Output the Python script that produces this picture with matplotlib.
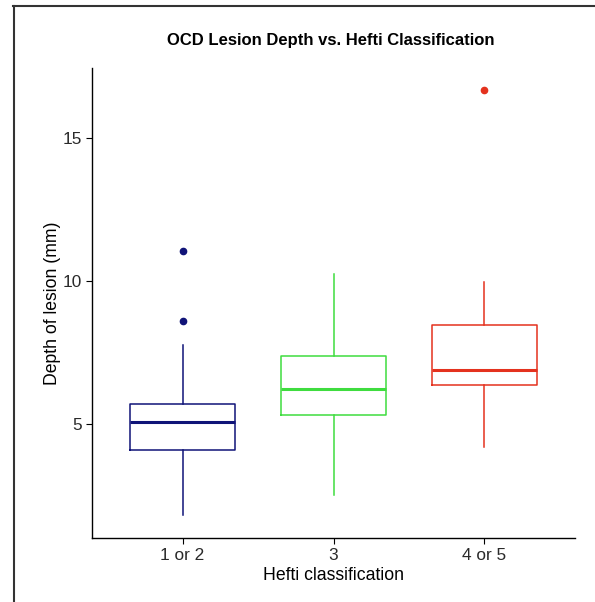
import matplotlib
matplotlib.use("Agg")
import matplotlib.pyplot as plt
from matplotlib.lines import Line2D

plt.rcParams['font.family'] = ['Liberation Sans', 'DejaVu Sans']

categories = ["1 or 2", "3", "4 or 5"]
whisker_low = [1.82, 2.51, 4.19]
q1 = [4.09, 5.31, 6.36]
median = [5.07, 6.22, 6.88]
q3 = [5.69, 7.38, 8.44]
whisker_high = [7.76, 10.24, 9.95]
outliers = [[8.58, 11.06], [], [16.68]]
colors = ["#101478", "#3fdc3f", "#e4321e"]

fig = plt.figure(figsize=(5.95, 6.02), dpi=100)
ax = fig.add_axes([92/595, 1-538/602, (575-92)/595, (538-68)/602])

stats = []
for i, c in enumerate(categories):
    stats.append(dict(label=c, whislo=whisker_low[i], q1=q1[i], med=median[i],
                      q3=q3[i], whishi=whisker_high[i], fliers=outliers[i]))

for i, s in enumerate(stats):
    col = colors[i]
    ax.bxp([s], positions=[i + 1], widths=0.7, showcaps=False, patch_artist=False,
           boxprops=dict(color=col, linewidth=1.1),
           whiskerprops=dict(color=col, linewidth=1.1),
           medianprops=dict(color=col, linewidth=2.2, solid_capstyle='butt'),
           flierprops=dict(marker='o', markerfacecolor=col, markeredgecolor=col,
                           markersize=4.5, linestyle='none'))

ax.set_xlim(0.4, 3.6)
ax.set_ylim(1.0, 17.45)
ax.set_xticks([1, 2, 3])
ax.set_xticklabels(categories)
ax.set_yticks([5, 10, 15])
ax.set_yticklabels(["5", "10", "15"])

for side in ["top", "right"]:
    ax.spines[side].set_visible(False)
for side in ["left", "bottom"]:
    ax.spines[side].set_linewidth(1.0)
    ax.spines[side].set_color("black")
ax.tick_params(axis='both', direction='out', length=4, width=0.8, color='black',
               labelsize=12.4, labelcolor='#2a2a2a', pad=3)

ax.set_xlabel("Hefti classification", fontsize=12.7, labelpad=3)
ax.set_ylabel("Depth of lesion (mm)", fontsize=12.7, labelpad=1.5)
fig.text(331/595, 1-40/602, "OCD Lesion Depth vs. Hefti Classification",
         ha='center', va='center', fontsize=12, fontweight='bold')

# outer frame (left and top edges visible)
fig.add_artist(Line2D([13.5/595, 13.5/595], [0, 1-6/602], transform=fig.transFigure,
                      color='#333333', linewidth=1.5))
fig.add_artist(Line2D([13/595, 1], [1-6/602, 1-6/602], transform=fig.transFigure,
                      color='#333333', linewidth=1.5))

fig.savefig("out.png", dpi=100)
